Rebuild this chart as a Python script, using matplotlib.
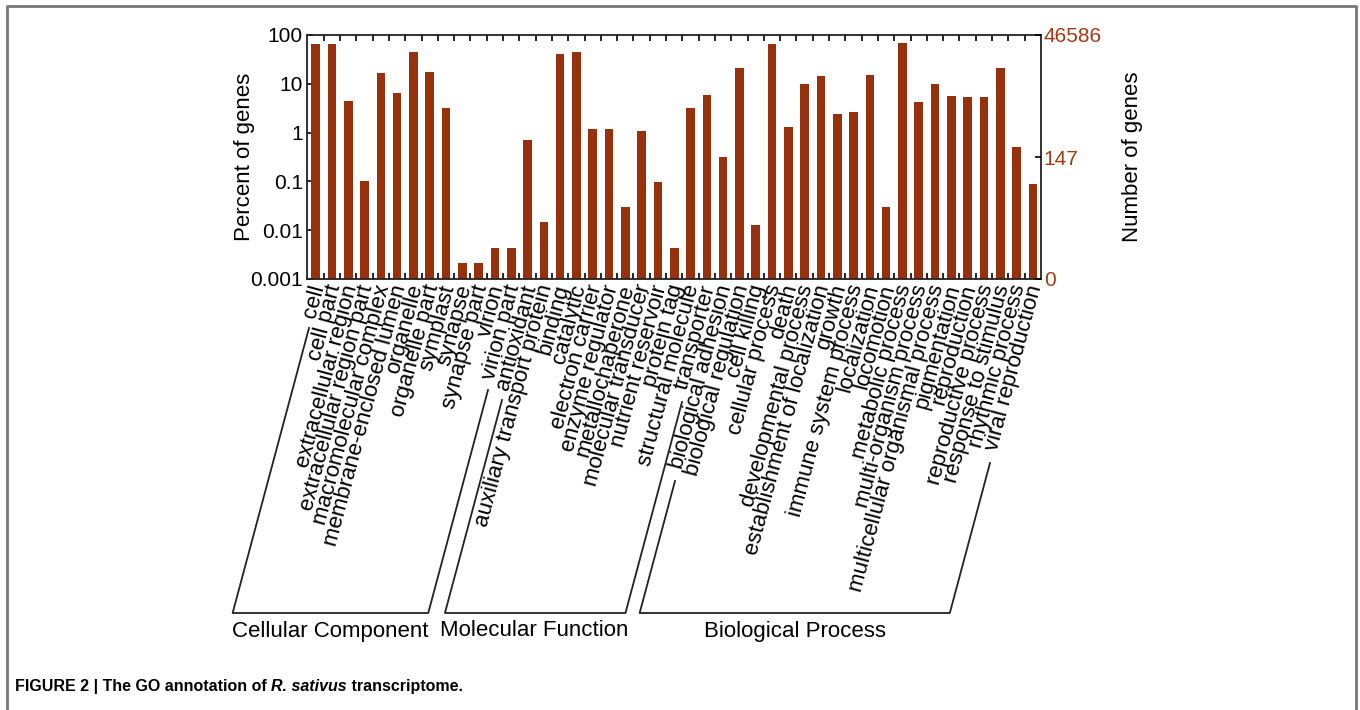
import numpy as np
import matplotlib
matplotlib.use("Agg")
import matplotlib.pyplot as plt
from matplotlib import font_manager
from matplotlib.lines import Line2D

## Data (percent of annotated genes, log scale)

cc_terms = ["cell", "cell part", "extracellular region", "extracellular region part",
            "macromolecular complex", "membrane-enclosed lumen", "organelle",
            "organelle part", "symplast", "synapse", "synapse part", "virion",
            "virion part"]
cc_pct = [65.4, 65.4, 4.4, 0.1, 16.7, 6.4, 44.0, 17.5, 3.26, 0.0021, 0.0021,
          0.00425, 0.00425]

mf_terms = ["antioxidant", "auxiliary transport protein", "binding", "catalytic",
            "electron carrier", "enzyme regulator", "metallochaperone",
            "molecular transducer", "nutrient reservoir", "protein tag",
            "structural molecule", "transporter"]
mf_pct = [0.69, 0.0149, 41.5, 45.6, 1.19, 1.19, 0.0297, 1.08, 0.097, 0.00425,
          3.26, 5.8]

bp_terms = ["biological adhesion", "biological regulation", "cell killing",
            "cellular process", "death", "developmental process",
            "establishment of localization", "growth", "immune system process",
            "localization", "locomotion", "metabolic process",
            "multi-organism process", "multicellular organismal process",
            "pigmentation", "reproduction", "reproductive process",
            "response to stimulus", "rhythmic process", "viral reproduction"]
bp_pct = [0.31, 21.1, 0.0127, 64.4, 1.33, 10.1, 14.7, 2.45, 2.7, 15.4, 0.0297,
          67.5, 4.26, 9.9, 5.65, 5.38, 5.38, 20.8, 0.50, 0.088]

group_names = ["Cellular Component", "Molecular Function", "Biological Process"]

total_genes = 46586
right_ticks = [0, 147, total_genes]
left_ticks = [0.001, 0.01, 0.1, 1, 10, 100]
left_ticklabels = ["0.001", "0.01", "0.1", "1", "10", "100"]

caption_parts = [("FIGURE 2 | The GO annotation of ", "normal"),
                 ("R. sativus", "italic"),
                 (" transcriptome.", "normal")]

# bracket outlines under each group, in figure pixels (x_top_left, y_top_left,
# x_top_right, y_top_right); bottoms follow the 75 deg slant
bracket_tops = [(309, 328, 488, 390),
                (502, 400, 682, 402),
                (675, 481, 990, 463)]
bracket_bottom = 613
group_label_x = [330, 534, 795]

bar_color = "#97300c"
num_color = "#a53b14"

W, H = 1360, 710


def pick_font(names):
    for n in names:
        try:
            font_manager.findfont(font_manager.FontProperties(family=n),
                                  fallback_to_default=False)
            return n
        except ValueError:
            continue
    return "DejaVu Sans"


main_font = pick_font(["Liberation Sans", "Arial", "DejaVu Sans"])
plt.rcParams["font.family"] = [main_font, "DejaVu Sans"]

terms = cc_terms + mf_terms + bp_terms
pct = cc_pct + mf_pct + bp_pct
x = np.arange(len(terms))

fig = plt.figure(figsize=(W / 100, H / 100), dpi=100)
ax = fig.add_axes([307 / W, 1 - 279 / H, (1041 - 307) / W, (279 - 35) / H])

ax.bar(x, pct, width=0.53, color=bar_color, zorder=2)
ax.set_yscale("log")
ax.set_ylim(0.001, 100)
ax.set_xlim(-0.53, len(terms) - 0.5)

ax.set_yticks(left_ticks)
ax.set_yticklabels(left_ticklabels)
ax.yaxis.set_minor_locator(matplotlib.ticker.NullLocator())
ax.tick_params(axis="y", direction="in", length=4, width=1.2, labelsize=15,
               pad=3, right=False)

# no ticks at bar centres, short ticks between bars top and bottom
ax.set_xticks(x)
ax.set_xticklabels([])
ax.tick_params(axis="x", which="major", length=0)
ax.set_xticks(x[:-1] + 0.5, minor=True)
ax.tick_params(axis="x", which="minor", direction="in", length=4, width=1.2,
               top=True, bottom=True)

for s in ax.spines.values():
    s.set_linewidth(1.3)
    s.set_color("#222222")

ax.set_ylabel("Percent of genes", fontsize=16)
ax.yaxis.set_label_coords((255 - 307) / (1041 - 307), 0.5)

# right axis in number of genes
ax2 = ax.twinx()
ax2.set_yscale("log")
lo = total_genes * 0.001 / 100
ax2.set_ylim(lo, total_genes)
ax2.set_yticks([max(t, lo) for t in right_ticks])
ax2.set_yticklabels([str(t) for t in right_ticks])
ax2.yaxis.set_minor_locator(matplotlib.ticker.NullLocator())
ax2.tick_params(axis="y", direction="in", length=4, width=1.2, labelsize=15,
                pad=2, labelcolor=num_color)
for s in ax2.spines.values():
    s.set_visible(False)
ax2.set_ylabel("Number of genes", fontsize=16)
ax2.yaxis.set_label_coords((1122 - 307) / (1041 - 307), 0.5)

# rotated category labels
lab_y = 1 - (285 - 35) / (279 - 35)
for xi, t in zip(x, terms):
    ax.text(xi + 0.18, lab_y, t, transform=ax.get_xaxis_transform(),
            rotation=75, rotation_mode="anchor", ha="right", va="center",
            fontsize=16, clip_on=False)

# group brackets
slant = 1 / np.tan(np.radians(75))
for (xl, yl, xr, yr), name, gx in zip(bracket_tops, group_names, group_label_x):
    bl = xl - (bracket_bottom - yl) * slant
    br = xr - (bracket_bottom - yr) * slant
    px = [xl, bl, br, xr]
    py = [yl, bracket_bottom, bracket_bottom, yr]
    fig.add_artist(Line2D([p / W for p in px], [1 - p / H for p in py],
                          color="#222222", lw=1.3))
    fig.text(gx / W, 1 - 631 / H, name, ha="center", va="center", fontsize=16)

# frame round the figure panel
frame = dict(color="#777777", lw=2)
fig.add_artist(Line2D([7 / W, 7 / W, 1356 / W, 1356 / W],
                      [0, 1 - 6 / H, 1 - 6 / H, 0], **frame))

# caption, pieces laid side by side on one baseline
renderer = fig.canvas.get_renderer()
cx = 15
for txt, style in caption_parts:
    t = fig.text(cx / W, 1 - 691 / H, txt, ha="left", va="baseline",
                 fontsize=11.5, fontweight="bold", style=style)
    cx += t.get_window_extent(renderer).width

fig.savefig("out.png", dpi=100)
